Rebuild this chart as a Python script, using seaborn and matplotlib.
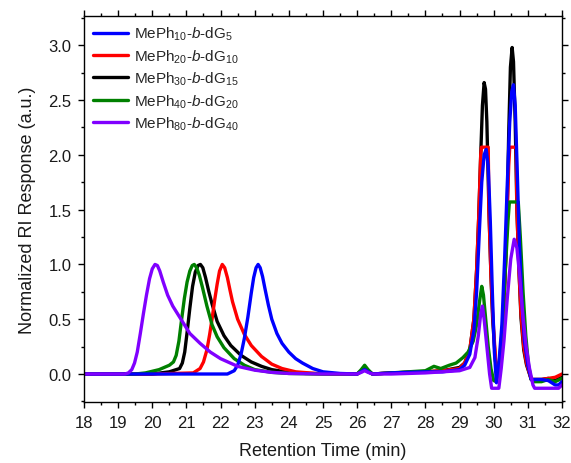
import numpy as np
import pandas as pd
import matplotlib
matplotlib.use("Agg")
import matplotlib.pyplot as plt
import seaborn as sns
from matplotlib.ticker import MultipleLocator

# ---------------- data ----------------
labels = [r"MePh$_{10}$-$\mathit{b}$-dG$_{5}$",
          r"MePh$_{20}$-$\mathit{b}$-dG$_{10}$",
          r"MePh$_{30}$-$\mathit{b}$-dG$_{15}$",
          r"MePh$_{40}$-$\mathit{b}$-dG$_{20}$",
          r"MePh$_{80}$-$\mathit{b}$-dG$_{40}$"]
colors = ["#0000FF", "#FF0000", "#000000", "#008000", "#8000FF"]

t_blue = [18.0, 20.0, 22.2, 22.4, 22.5, 22.6, 22.7, 22.8, 22.9, 22.97, 23.04, 23.1, 23.16,
          23.23, 23.3, 23.4, 23.5, 23.65, 23.8, 24.0, 24.2, 24.4, 24.7, 25.0, 25.5, 26.0,
          26.12, 26.22, 26.32, 26.45, 27.0, 28.0, 28.5, 29.0, 29.15, 29.3, 29.42, 29.5,
          29.58, 29.65, 29.72, 29.78, 29.84, 29.9, 29.96, 30.02, 30.08, 30.14, 30.24, 30.32,
          30.4, 30.47, 30.53, 30.58, 30.63, 30.69, 30.75, 30.82, 30.9, 31.0, 31.1, 31.4,
          31.6, 31.8, 31.9, 32.0]
v_blue = [0.0, 0.0, 0.0, 0.03, 0.08, 0.18, 0.33, 0.52, 0.74, 0.88, 0.97, 1.0, 0.97,
          0.89, 0.78, 0.63, 0.5, 0.37, 0.28, 0.2, 0.14, 0.1, 0.05, 0.02, 0.005, 0.0,
          0.02, 0.04, 0.02, 0.0, 0.01, 0.02, 0.02, 0.04, 0.08, 0.18, 0.4, 0.75,
          1.3, 1.75, 2.0, 2.05, 1.9, 1.4, 0.75, 0.2, -0.08, 0.05, 0.45, 1.05,
          1.75, 2.3, 2.58, 2.64, 2.45, 1.85, 1.2, 0.7, 0.3, 0.08, -0.05, -0.05,
          -0.06, -0.1, -0.1, -0.07]

t_red = [18.0, 20.0, 21.2, 21.4, 21.5, 21.6, 21.68, 21.75, 21.83, 21.9, 21.97, 22.05, 22.12,
         22.2, 22.28, 22.35, 22.5, 22.7, 22.9, 23.2, 23.5, 23.8, 24.2, 24.8, 25.5, 26.0,
         26.12, 26.22, 26.32, 26.45, 27.0, 28.0, 28.5, 29.0, 29.15, 29.3, 29.42, 29.5,
         29.56, 29.62, 29.64, 29.84, 29.86, 29.92, 29.97, 30.05, 30.1, 30.18, 30.28, 30.34,
         30.39, 30.44, 30.47, 30.66, 30.68, 30.74, 30.8, 30.88, 30.96, 31.1, 31.4, 31.6,
         31.8, 32.0]
v_red = [0.0, 0.0, 0.01, 0.05, 0.11, 0.22, 0.36, 0.5, 0.68, 0.82, 0.94, 1.0, 0.97,
         0.88, 0.76, 0.66, 0.5, 0.36, 0.26, 0.16, 0.09, 0.05, 0.02, 0.005, 0.0, 0.0,
         0.03, 0.06, 0.03, 0.0, 0.01, 0.02, 0.03, 0.05, 0.1, 0.22, 0.5, 0.95,
         1.42, 2.0, 2.07, 2.07, 1.5, 0.9, 0.55, 0.15, 0.03, 0.12, 0.5, 0.95,
         1.42, 1.9, 2.07, 2.07, 1.5, 0.95, 0.55, 0.25, 0.1, -0.05, -0.05, -0.04,
         -0.03, 0.0]

t_black = [18.0, 20.0, 20.5, 20.8, 20.88, 20.95, 21.02, 21.1, 21.18, 21.26, 21.34, 21.41,
           21.48, 21.56, 21.65, 21.75, 21.9, 22.1, 22.3, 22.6, 22.9, 23.2, 23.5, 24.0, 24.5,
           25.5, 26.0, 26.12, 26.22, 26.32, 26.45, 27.0, 28.0, 28.5, 29.0, 29.15, 29.3,
           29.42, 29.5, 29.56, 29.62, 29.67, 29.72, 29.76, 29.8, 29.86, 29.92, 29.97, 30.05,
           30.12, 30.18, 30.28, 30.34, 30.39, 30.44, 30.49, 30.54, 30.58, 30.63, 30.68,
           30.74, 30.8, 30.88, 30.96, 31.1, 31.4, 31.6, 31.8, 32.0]
v_black = [0.0, 0.0, 0.02, 0.05, 0.1, 0.2, 0.38, 0.6, 0.8, 0.93, 0.99, 1.0,
           0.97, 0.88, 0.76, 0.64, 0.48, 0.35, 0.26, 0.17, 0.11, 0.07, 0.04, 0.015, 0.005,
           0.0, 0.0, 0.025, 0.05, 0.025, 0.0, 0.01, 0.02, 0.03, 0.06, 0.1, 0.22,
           0.5, 0.95, 1.42, 2.0, 2.45, 2.66, 2.6, 2.3, 1.5, 0.9, 0.5, 0.12,
           0.0, 0.1, 0.5, 0.95, 1.42, 2.2, 2.8, 2.98, 2.85, 2.3, 1.5,
           0.95, 0.51, 0.22, 0.085, -0.05, -0.05, -0.04, -0.06, -0.03]

t_green = [18.0, 19.5, 19.8, 20.2, 20.5, 20.62, 20.7, 20.78, 20.86, 20.94, 21.02, 21.1,
           21.17, 21.23, 21.3, 21.38, 21.47, 21.6, 21.75, 21.9, 22.1, 22.4, 22.7, 23.0,
           23.5, 24.0, 25.0, 26.0, 26.12, 26.22, 26.32, 26.45, 27.0, 27.5, 28.0, 28.25,
           28.45, 28.7, 28.9, 29.1, 29.25, 29.4, 29.5, 29.58, 29.65, 29.7, 29.76, 29.84,
           29.92, 30.0, 30.08, 30.15, 30.25, 30.35, 30.42, 30.46, 30.72, 30.78, 30.86,
           30.94, 31.02, 31.1, 31.15, 31.4, 31.6, 31.8, 32.0]
v_green = [0.0, 0.0, 0.01, 0.04, 0.08, 0.11, 0.17, 0.3, 0.5, 0.69, 0.84, 0.94,
           0.99, 1.0, 0.97, 0.9, 0.79, 0.62, 0.45, 0.34, 0.24, 0.14, 0.08, 0.04,
           0.015, 0.005, 0.0, 0.0, 0.04, 0.08, 0.04, 0.0, 0.01, 0.02, 0.03, 0.07,
           0.05, 0.08, 0.1, 0.15, 0.2, 0.3, 0.45, 0.65, 0.8, 0.72, 0.52, 0.25,
           0.05, -0.06, -0.07, 0.05, 0.4, 1.0, 1.4, 1.57, 1.57, 1.25, 0.75,
           0.35, 0.08, -0.05, -0.07, -0.07, -0.05, -0.07, -0.04]

t_purple = [18.0, 19.2, 19.3, 19.4, 19.48, 19.56, 19.65, 19.74, 19.83, 19.92, 20.0, 20.08,
            20.15, 20.22, 20.32, 20.45, 20.6, 20.8, 21.1, 21.4, 21.7, 22.0, 22.5, 23.0,
            23.5, 24.0, 25.0, 26.0, 26.12, 26.22, 26.32, 26.45, 27.0, 28.0, 29.0, 29.3,
            29.45, 29.55, 29.62, 29.67, 29.72, 29.8, 29.88, 29.94, 30.15, 30.22, 30.3, 30.4,
            30.5, 30.6, 30.68, 30.76, 30.85, 30.95, 31.05, 31.15, 31.2, 31.9, 32.0]
v_purple = [0.0, 0.0, 0.01, 0.04, 0.1, 0.2, 0.37, 0.55, 0.72, 0.87, 0.96, 1.0,
            0.99, 0.94, 0.84, 0.72, 0.62, 0.52, 0.37, 0.28, 0.2, 0.14, 0.07, 0.035,
            0.015, 0.005, 0.0, 0.0, 0.015, 0.03, 0.015, 0.0, 0.0, 0.01, 0.03, 0.06,
            0.15, 0.35, 0.55, 0.62, 0.5, 0.25, 0.0, -0.13, -0.13, 0.05, 0.3, 0.7,
            1.05, 1.23, 1.15, 0.9, 0.55, 0.25, 0.05, -0.1, -0.13, -0.13, -0.1]

xs = [t_blue, t_red, t_black, t_green, t_purple]
ys = [v_blue, v_red, v_black, v_green, v_purple]

# ---------------- style ----------------
sns.set_theme(style="ticks")
plt.rcParams["font.family"] = ["Liberation Sans", "DejaVu Sans"]
plt.rcParams["mathtext.fontset"] = "custom"
plt.rcParams["mathtext.rm"] = "Liberation Sans"
plt.rcParams["mathtext.it"] = "Liberation Sans:italic"
plt.rcParams["mathtext.bf"] = "Liberation Sans:bold"

fig = plt.figure(figsize=(5.71, 4.64), dpi=100)
ax = fig.add_axes([0.1471, 0.1304, 0.8371, 0.8336])

draw_order = [2, 1, 3, 0, 4]  # black, red, green, blue, purple on top
for i in draw_order:
    df = pd.DataFrame({"t": xs[i], "v": ys[i]})
    sns.lineplot(data=df, x="t", y="v", ax=ax, color=colors[i], lw=2.4,
                 label=labels[i], sort=False, estimator=None,
                 solid_joinstyle="round", solid_capstyle="round")
h, l = ax.get_legend_handles_labels()
lab2h = dict(zip(l, h))
ax.legend([lab2h[lb] for lb in labels], labels, loc="upper left", frameon=False,
          fontsize=11, handlelength=2.3, handletextpad=0.35, labelspacing=0.33,
          borderaxespad=0.0, borderpad=0.6, bbox_to_anchor=(0.0, 1.0))

ax.set_xlim(18, 32)
ax.set_ylim(-0.26, 3.27)
ax.xaxis.set_major_locator(MultipleLocator(1))
ax.xaxis.set_minor_locator(MultipleLocator(0.5))
ax.yaxis.set_major_locator(MultipleLocator(0.5))
ax.yaxis.set_minor_locator(MultipleLocator(0.25))
ax.tick_params(which="both", direction="out", top=True, right=True,
               labeltop=False, labelright=False, width=1.0, color="black",
               labelsize=12, labelcolor="#1a1a1a", pad=4.5)
ax.tick_params(which="major", length=4.5)
ax.tick_params(which="minor", length=2.5)
for s in ax.spines.values():
    s.set_visible(True)
    s.set_linewidth(1.0)
    s.set_color("black")
ax.set_xlabel("Retention Time (min)", fontsize=13, color="#1a1a1a", labelpad=9)
ax.set_ylabel("Normalized RI Response (a.u.)", fontsize=13, color="#1a1a1a", labelpad=9)

fig.savefig("out.png", dpi=100)
